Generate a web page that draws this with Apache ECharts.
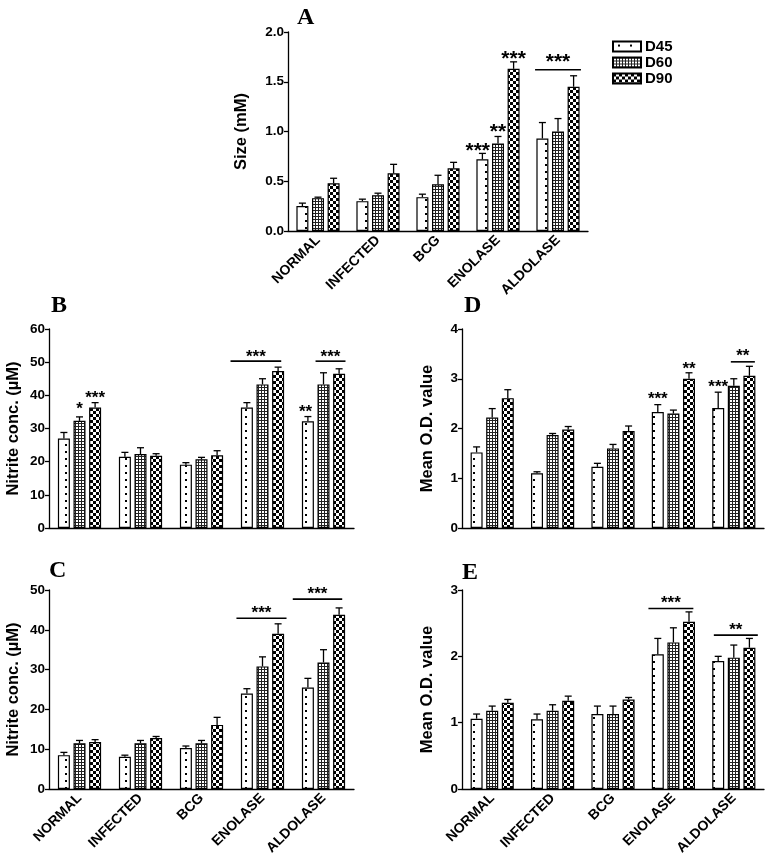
<!DOCTYPE html>
<html><head><meta charset="utf-8">
<script src="https://cdn.jsdelivr.net/npm/echarts@6/dist/echarts.min.js"></script>
<style>html,body{margin:0;padding:0;background:#fff}#c{width:767px;height:862px}</style>
</head><body><div id="c"></div>
<script>
const categories = ['NORMAL','INFECTED','BCG','ENOLASE','ALDOLASE'];
const groups = ['D45','D60','D90'];

// Panel A: Size (mM)
const A_mean = [[0.25,0.30,0.34,0.72,0.93],[0.33,0.36,0.47,0.88,1.00],[0.48,0.58,0.63,1.63,1.45]];
const A_err  = [[0.28,0.32,0.37,0.78,1.09],[0.34,0.38,0.56,0.95,1.13],[0.53,0.67,0.69,1.70,1.56]];
// [category, barFrom, barTo, starsY, lineY, text]
const A_marks = [[3,-0.3,-0.3,0.85,null,'***'],[3,1,1,1.04,null,'**'],[3,2,2,1.78,null,'***'],[4,-0.47,2.47,1.74,1.62,'***']];

// Panel B: Nitrite conc. (µM)
const B_mean = [[27.0,21.5,19.1,36.3,32.2],[32.3,22.3,20.7,43.3,43.3],[36.3,21.8,21.9,47.3,46.5]];
const B_err  = [[28.8,22.8,19.7,37.8,33.6],[33.5,24.2,21.3,45.0,46.8],[37.8,22.4,23.3,48.5,48.0]];
const B_marks = [[0,1,1,37.0,null,'*'],[0,2,2,40.3,null,'***'],[3,-1.05,2.2,52.7,50.3,'***'],[4,-0.15,-0.15,36.0,null,'**'],[4,0.49,2.41,52.7,50.3,'***']];

// Panel D: Mean O.D. value
const D_mean = [[1.52,1.10,1.23,2.33,2.41],[2.22,1.87,1.60,2.30,2.86],[2.61,1.98,1.95,3.00,3.06]];
const D_err  = [[1.63,1.13,1.30,2.48,2.73],[2.40,1.90,1.68,2.37,3.00],[2.78,2.04,2.05,3.12,3.25]];
const D_marks = [[3,0,0,2.66,null,'***'],[3,2,2,3.26,null,'**'],[4,0,0,2.91,null,'***'],[4,0.81,2.35,3.52,3.34,'**']];

// Panel C: Nitrite conc. (µM)
const C_mean = [[8.5,8.1,10.3,24.0,25.5],[11.5,11.5,11.5,30.8,31.8],[11.8,12.8,16.1,39.0,43.8]];
const C_err  = [[9.2,8.5,10.8,25.2,27.8],[12.2,12.2,12.2,33.2,35.0],[12.4,13.2,18.0,41.5,45.5]];
const C_marks = [[3,-0.67,2.54,45.2,42.9,'***'],[4,-0.97,2.2,50.0,47.7,'***']];

// Panel E: Mean O.D. value
const E_mean = [[1.06,1.05,1.13,2.03,1.93],[1.18,1.18,1.13,2.21,1.98],[1.30,1.33,1.35,2.52,2.13]];
const E_err  = [[1.13,1.13,1.25,2.27,2.00],[1.25,1.27,1.25,2.43,2.17],[1.35,1.40,1.38,2.67,2.27]];
const E_marks = [[3,-0.6,2.28,2.86,2.72,'***'],[4,-0.28,2.54,2.45,2.32,'**']];

const FONT = '"Liberation Sans", Arial, sans-serif';
const BAR_W = 12, BAR_GAP = 0.3, OFF = BAR_W * (1 + BAR_GAP);

function mkCanvas(w, h, draw) {
  const c = document.createElement('canvas'); c.width = w; c.height = h;
  const g = c.getContext('2d'); g.fillStyle = '#fff'; g.fillRect(0, 0, w, h); g.fillStyle = '#000'; draw(g); return c;
}
const patD45 = mkCanvas(12, 7, g => { g.fillRect(5, 3, 2, 2); });
const patD60 = mkCanvas(3, 3, g => { g.fillStyle = '#222'; g.fillRect(0, 0, 3, 1); g.fillRect(0, 0, 1, 3); });
const patD90 = mkCanvas(6, 6, g => { g.fillRect(0, 0, 3, 3); g.fillRect(3, 3, 3, 3); });
const pats = [patD45, patD60, patD90];

const panels = [
  {mean:A_mean, err:A_err, marks:A_marks, max:2, interval:0.5, dec:1, name:'Size (mM)', gap:38, labels:true, fs:21,
   grid:{left:288, top:32, width:300, height:199}},
  {mean:B_mean, err:B_err, marks:B_marks, max:60, interval:10, dec:0, name:'Nitrite conc. (µM)', gap:27, labels:false, fs:17,
   grid:{left:49, top:329, width:305, height:199}},
  {mean:D_mean, err:D_err, marks:D_marks, max:4, interval:1, dec:0, name:'Mean O.D. value', gap:26, labels:false, fs:17,
   grid:{left:462, top:329, width:302, height:199}},
  {mean:C_mean, err:C_err, marks:C_marks, max:50, interval:10, dec:0, name:'Nitrite conc. (µM)', gap:27, labels:true, fs:17,
   grid:{left:49, top:590, width:305, height:199}},
  {mean:E_mean, err:E_err, marks:E_marks, max:3, interval:1, dec:0, name:'Mean O.D. value', gap:26, labels:true, fs:17,
   grid:{left:462, top:590, width:302, height:199}}
];

function errRender(params, api) {
  const c = api.value(0), s = api.value(1);
  const p = api.coord([c, api.value(2)]), q = api.coord([c, api.value(3)]);
  const x = p[0] + (s - 1) * OFF;
  const st = {stroke:'#000', lineWidth:1.3};
  return {type:'group', children:[
    {type:'line', shape:{x1:x, y1:p[1], x2:x, y2:q[1]}, style:st},
    {type:'line', shape:{x1:x-3.5, y1:q[1], x2:x+3.5, y2:q[1]}, style:st}
  ]};
}
function markRender(marks, fs) {
  return function(params, api) {
    const m = marks[params.dataIndex];
    const base = api.coord([m[0], m[3]]);
    const xl = base[0] + (m[1] - 1) * OFF, xr = base[0] + (m[2] - 1) * OFF;
    const children = [{type:'text', style:{x:(xl+xr)/2, y:base[1] + 0.23*fs, text:m[5],
      font:'bold ' + fs + 'px ' + FONT, fill:'#000', align:'center', verticalAlign:'middle'}}];
    if (m[4] != null) {
      const ly = api.coord([m[0], m[4]])[1];
      children.push({type:'line', shape:{x1:xl, y1:ly, x2:xr, y2:ly}, style:{stroke:'#000', lineWidth:1.6}});
    }
    return {type:'group', children};
  };
}

const grid = [], xAxis = [], yAxis = [], series = [];
panels.forEach((p, i) => {
  grid.push(p.grid);
  xAxis.push({type:'category', gridIndex:i, data:categories, boundaryGap:true,
    axisLine:{lineStyle:{color:'#000', width:1.3}}, axisTick:{show:false},
    axisLabel:{show:p.labels, rotate:45, interval:0, margin:7, color:'#000', fontWeight:'bold', fontSize:14, fontFamily:FONT}});
  yAxis.push({type:'value', gridIndex:i, min:0, max:p.max, interval:p.interval,
    name:p.name, nameLocation:'middle', nameGap:p.gap,
    nameTextStyle:{color:'#000', fontWeight:'bold', fontSize:16.5, fontFamily:FONT},
    axisLine:{show:true, lineStyle:{color:'#000', width:1.3}},
    axisTick:{show:true, length:4, lineStyle:{color:'#000', width:1.3}},
    splitLine:{show:false},
    axisLabel:{color:'#000', fontWeight:'bold', fontSize:13.5, fontFamily:FONT, margin:4,
      formatter: v => v.toFixed(p.dec)}});
  groups.forEach((g, s) => {
    series.push({type:'bar', name:g, xAxisIndex:i, yAxisIndex:i, data:p.mean[s],
      barWidth:BAR_W, barGap:(BAR_GAP*100)+'%',
      itemStyle:{color:{image:pats[s], repeat:'repeat'}, borderColor:'#000', borderWidth:1.2},
      emphasis:{disabled:true}, silent:true});
  });
  const ed = [];
  for (let s = 0; s < 3; s++) for (let c = 0; c < 5; c++) ed.push([c, s, p.mean[s][c], p.err[s][c]]);
  series.push({type:'custom', xAxisIndex:i, yAxisIndex:i, data:ed, encode:{x:0, y:3}, renderItem:errRender, z:5, silent:true});
  series.push({type:'custom', xAxisIndex:i, yAxisIndex:i, data:p.marks.map(m => [m[0], m[3]]), encode:{x:0, y:1},
    renderItem:markRender(p.marks, p.fs), z:6, clip:false, silent:true});
});

const letterStyle = {fill:'#000', font:'bold 24px "Liberation Serif", "Times New Roman", serif'};
const letters = [['A',297,6],['B',51,294],['D',464,294],['C',49,559],['E',462,561]].map(l => ({
  type:'text', left:l[1], top:l[2], style:Object.assign({text:l[0]}, letterStyle)}));

const chart = echarts.init(document.getElementById('c'), null, {renderer:'canvas'});
chart.setOption({
  animation:false,
  backgroundColor:'#fff',
  grid, xAxis, yAxis, series,
  legend:{data:groups, orient:'vertical', left:607, top:34, itemWidth:28, itemHeight:10, itemGap:1,
    icon:'rect', selectedMode:false,
    textStyle:{color:'#000', fontWeight:'bold', fontSize:15, lineHeight:13, fontFamily:FONT, padding:[0,0,0,-1]}},
  graphic: letters
});
</script></body></html>
